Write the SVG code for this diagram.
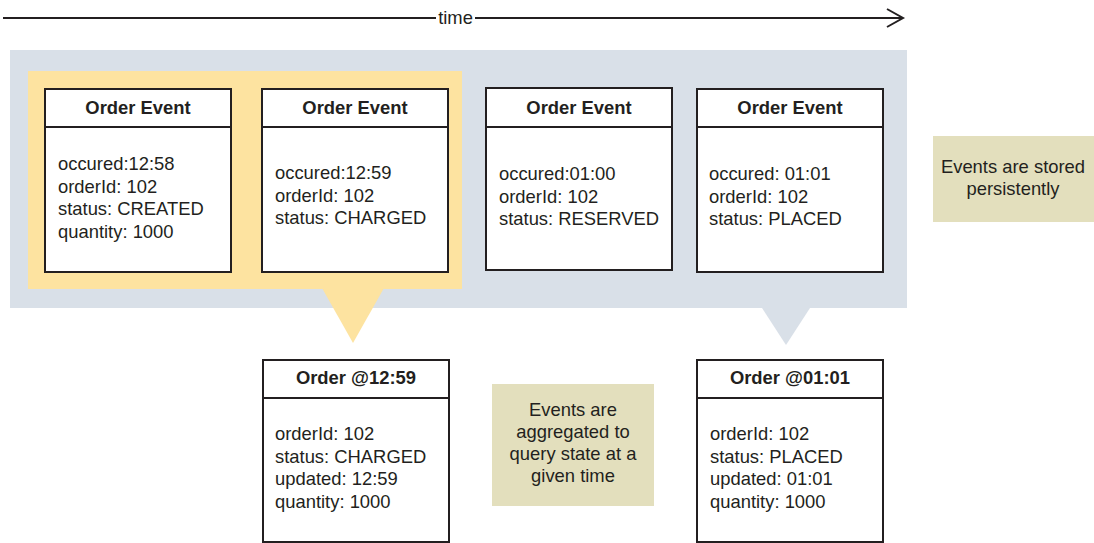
<svg xmlns="http://www.w3.org/2000/svg" width="1094" height="543" viewBox="0 0 1094 543">
<style>
text{font-family:"Liberation Sans",Arial,sans-serif;font-size:18.4px;fill:#231f20}
.t{font-weight:bold;text-anchor:middle}
.box{fill:#fff;stroke:#231f20;stroke-width:2}
.sep{stroke:#231f20;stroke-width:2}
.note{fill:#e3dfbd}
.c{text-anchor:middle}
</style>
<rect x="0" y="0" width="1094" height="543" fill="#fff"/>
<g id="timeline">
<line x1="3" y1="18" x2="436" y2="18" stroke="#231f20" stroke-width="2"/>
<line x1="475" y1="18" x2="902" y2="18" stroke="#231f20" stroke-width="2"/>
<polyline points="887,9 903,18 887,27" fill="none" stroke="#231f20" stroke-width="2"/>
<text x="455.5" y="24" class="c">time</text>
</g>
<g id="store">
<rect x="10" y="50" width="897" height="258" fill="#d9e0e8"/>
<polygon points="762,308 810,308 786,345" fill="#d9e0e8"/>
</g>
<g id="window">
<rect x="28" y="71" width="434" height="218" fill="#fde3a0"/>
<polygon points="322,288 384,288 353,343" fill="#fde3a0"/>
</g>
<g id="e1">
<rect class="box" x="45" y="89" width="186" height="183"/>
<line class="sep" x1="45" y1="127" x2="231" y2="127"/>
<text class="t" x="138" y="114">Order Event</text>
<text x="58" y="170">occured:12:58</text>
<text x="58" y="192.5">orderId: 102</text>
<text x="58" y="215">status: CREATED</text>
<text x="58" y="237.5">quantity: 1000</text>
</g>
<g id="e2">
<rect class="box" x="262" y="89" width="186" height="183"/>
<line class="sep" x1="262" y1="127" x2="448" y2="127"/>
<text class="t" x="355" y="114">Order Event</text>
<text x="275" y="179">occured:12:59</text>
<text x="275" y="201.5">orderId: 102</text>
<text x="275" y="224">status: CHARGED</text>
</g>
<g id="e3">
<rect class="box" x="486" y="88" width="186" height="182"/>
<line class="sep" x1="486" y1="127" x2="672" y2="127"/>
<text class="t" x="579" y="114">Order Event</text>
<text x="499" y="180">occured:01:00</text>
<text x="499" y="202.5">orderId: 102</text>
<text x="499" y="225">status: RESERVED</text>
</g>
<g id="e4">
<rect class="box" x="697" y="89" width="186" height="183"/>
<line class="sep" x1="697" y1="127" x2="883" y2="127"/>
<text class="t" x="790" y="114">Order Event</text>
<text x="709" y="180">occured: 01:01</text>
<text x="709" y="202.5">orderId: 102</text>
<text x="709" y="225">status: PLACED</text>
</g>
<g id="note1">
<rect class="note" x="933" y="136" width="161" height="86"/>
<text class="c" x="1013" y="173">Events are stored</text>
<text class="c" x="1013" y="195">persistently</text>
</g>
<g id="o1">
<rect class="box" x="263" y="360" width="186" height="182"/>
<line class="sep" x1="263" y1="398" x2="449" y2="398"/>
<text class="t" x="356" y="384">Order @12:59</text>
<text x="275" y="440">orderId: 102</text>
<text x="275" y="462.5">status: CHARGED</text>
<text x="275" y="485">updated: 12:59</text>
<text x="275" y="507.5">quantity: 1000</text>
</g>
<g id="note2">
<rect class="note" x="492" y="384" width="162" height="122"/>
<text class="c" x="573" y="416">Events are</text>
<text class="c" x="573" y="438">aggregated to</text>
<text class="c" x="573" y="460">query state at a</text>
<text class="c" x="573" y="482">given time</text>
</g>
<g id="o2">
<rect class="box" x="697" y="360" width="186" height="182"/>
<line class="sep" x1="697" y1="398" x2="883" y2="398"/>
<text class="t" x="790" y="384">Order @01:01</text>
<text x="710" y="440">orderId: 102</text>
<text x="710" y="462.5">status: PLACED</text>
<text x="710" y="485">updated: 01:01</text>
<text x="710" y="507.5">quantity: 1000</text>
</g>
<g id="connectors"></g>
</svg>
